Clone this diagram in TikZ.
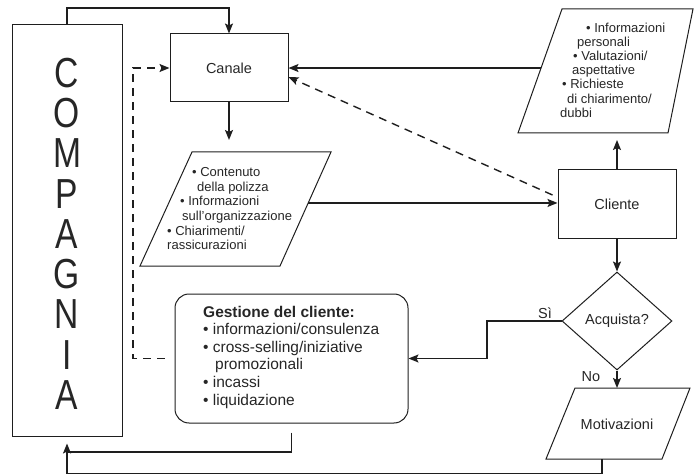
\documentclass[tikz,border=0pt]{standalone}
\usepackage{fontspec}
\usepackage{graphicx}
\setmainfont{Liberation Sans}
\usetikzlibrary{arrows.meta,shapes.geometric,calc}
\definecolor{ink}{HTML}{1E1E1E}
\definecolor{txt}{HTML}{262626}

\begin{document}
\begin{tikzpicture}[x=1pt,y=-1pt,
  box/.style={draw=ink,line width=1pt,inner sep=0pt,text=txt,
    font=\fontsize{14.5}{17}\selectfont},
  shapeline/.style={draw=ink,line width=1pt,line join=miter},
  conn/.style={draw=ink,line width=1.4pt},
  arr/.style={conn,-{Stealth[length=10pt,width=8pt,inset=2pt]}},
  dashconn/.style={dash pattern=on 8pt off 6pt},
  lbl/.style={inner sep=0pt,text=txt,font=\fontsize{14.5}{17}\selectfont},
  listtext/.style={inner sep=0pt,text=txt,align=left,anchor=north west},
  letter/.style={inner sep=0pt,text=txt,font=\fontsize{42}{42}\selectfont},
]
\useasboundingbox (0,0) rectangle (694,476);

% ---- main blocks
\node[box,minimum width=110pt,minimum height=411pt] (compagnia) at (67,230.5) {};
\foreach \ch [count=\i] in {C,O,M,P,A,G,N,I,A}
  \node[letter] (L\i) at (67,{73+40.25*(\i-1)}) {\scalebox{0.8}[1]{\ch}};

\node[box,minimum width=118pt,minimum height=68pt] (canale) at (229,68) {Canale};
\node[box,minimum width=118pt,minimum height=68pt] (cliente) at (617,204) {Cliente};
\node[box,diamond,minimum width=110pt,minimum height=98pt] (acq) at (617,321) {Acquista?};
\node[box,rounded corners=14pt,minimum width=233pt,minimum height=129pt] (gestione) at (291.5,358.5) {};

% ---- parallelograms
\coordinate (p1a) at (140,266); \coordinate (p1b) at (280,266);
\coordinate (p1c) at (331,152); \coordinate (p1d) at (192,152);
\draw[shapeline] (p1a) -- (p1b) -- (p1c) -- (p1d) -- cycle;
\coordinate (p1r) at ($(p1b)!0.553!(p1c)$);

\coordinate (p2a) at (518,133); \coordinate (p2b) at (668,133);
\coordinate (p2c) at (693,9);   \coordinate (p2d) at (562,9);
\draw[shapeline] (p2a) -- (p2b) -- (p2c) -- (p2d) -- cycle;
\coordinate (p2l) at ($(p2a)!0.524!(p2d)$);

\coordinate (m1a) at (546,459); \coordinate (m1b) at (662,459);
\coordinate (m1c) at (690,388); \coordinate (m1d) at (575,388);
\draw[shapeline] (m1a) -- (m1b) -- (m1c) -- (m1d) -- cycle;
\node[lbl] (motiv) at (617,424) {Motivazioni};

% ---- texts
\node[listtext,font=\fontsize{13}{14.6}\selectfont] (contenuti) at (167,167.5)
  {\hspace*{25pt}• Contenuto\\
   \hspace*{30pt}della polizza\\
   \hspace*{13pt}• Informazioni\\
   \hspace*{15pt}sull’organizzazione\\
   • Chiarimenti/\\
   rassicurazioni};

\node[listtext,font=\fontsize{13}{14.2}\selectfont] (richieste) at (560,22.5)
  {\hspace*{26pt}• Informazioni\\
   \hspace*{17pt}personali\\
   \hspace*{13pt}• Valutazioni/\\
   \hspace*{12pt}aspettative\\
   \hspace*{2pt}• Richieste\\
   \hspace*{7pt}di chiarimento/\\
   dubbi};

\node[listtext,font=\fontsize{15.5}{17.6}\selectfont] (gestext) at (203,305.7)
  {\textbf{Gestione del cliente:}\\
   • informazioni/consulenza\\
   • cross-selling/iniziative\\
   \hspace*{12pt}promozionali\\
   • incassi\\
   • liquidazione};

\node[lbl] (si) at (545,313) {Sì};
\node[lbl] (no) at (591,377) {No};

% ---- connectors
\coordinate (topbend) at (229,8);
\draw[arr] (compagnia.north) |- (topbend) -- (canale.north);

\draw[arr,shorten >=12pt] (canale.south) -- (canale.south |- p1d);
\draw[arr] (p1r) -- (p1r -| cliente.west);

\draw[arr,shorten >=7pt] (cliente.north) -- (cliente.north |- p2a);
\draw[arr] (p2l) -- (p2l -| canale.east);

\coordinate (fbstart) at ($(cliente.west)+(-5,-9)$);
\draw[arr,dashconn] (fbstart) -- ([yshift=-9pt]canale.east);

\draw[arr] (cliente.south) -- (acq.north);

\coordinate (sibend) at (487,358.5);
\draw[arr] (acq.west) -| (sibend) -- (sibend -| gestione.east);

\draw[arr] (acq.south) -- (acq.south |- m1d);

\coordinate (motout) at (602,459);
\coordinate (botrow) at (0,473.5);
\draw[arr,shorten >=7pt] (motout) |- (botrow -| compagnia.south) -- (compagnia.south);

\coordinate (gesrow) at (0,452);
\draw[conn,shorten <=9pt] (gestione.south) |- (gesrow -| compagnia.south);

\coordinate (dashcol) at (133,0);
\draw[arr,dashconn,shorten <=10pt] (gestione.west) -- (gestione.west -| dashcol) |- (canale.west);
\end{tikzpicture}
\end{document}
